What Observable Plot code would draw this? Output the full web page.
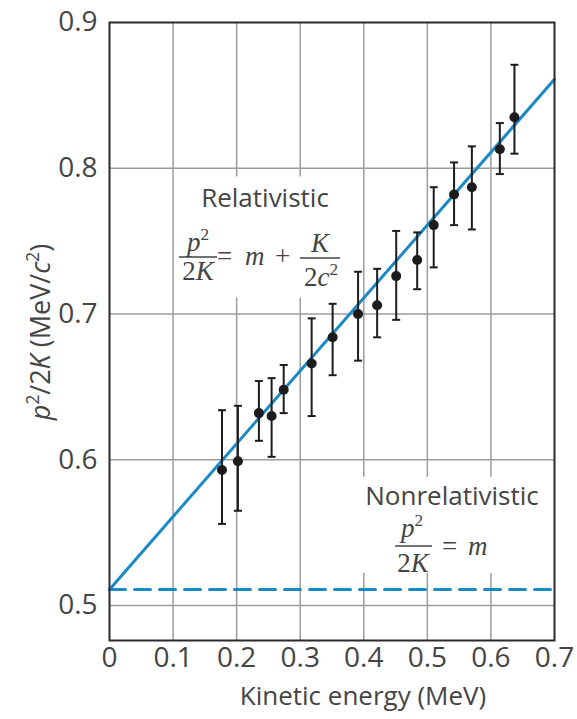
<!DOCTYPE html>
<html>
<head>
<meta charset="utf-8">
<script src="https://cdn.jsdelivr.net/npm/d3@7"></script>
<script src="https://cdn.jsdelivr.net/npm/@observablehq/plot@0.6"></script>
<style>
  html, body { margin: 0; padding: 0; background: #fff; }
  #chart { width: 577px; height: 719px; }
</style>
</head>
<body>
<div id="chart"></div>
<script>
// ---- data ----
const kinetic  = [0.177, 0.202, 0.235, 0.255, 0.274, 0.318, 0.351, 0.391, 0.421, 0.451, 0.484, 0.510, 0.542, 0.570, 0.614, 0.637];
const ratio    = [0.593, 0.599, 0.632, 0.630, 0.648, 0.666, 0.684, 0.700, 0.706, 0.726, 0.737, 0.761, 0.782, 0.787, 0.813, 0.835];
const errLow   = [0.556, 0.565, 0.613, 0.602, 0.632, 0.630, 0.658, 0.668, 0.684, 0.696, 0.717, 0.732, 0.761, 0.758, 0.796, 0.810];
const errHigh  = [0.634, 0.637, 0.654, 0.656, 0.665, 0.697, 0.707, 0.729, 0.731, 0.757, 0.756, 0.787, 0.804, 0.815, 0.831, 0.871];

const theoryK          = [0, 0.7];
const relativisticY    = [0.511, 0.861];
const nonrelativisticY = [0.511, 0.511];

const xTicks = [0, 0.1, 0.2, 0.3, 0.4, 0.5, 0.6, 0.7];
const yTicks = [0.5, 0.6, 0.7, 0.8, 0.9];
const xGrid  = [0.1, 0.2, 0.3, 0.4, 0.5, 0.6];
const yGrid  = [0.5, 0.6, 0.7, 0.8];

// ---- tables built from the arrays ----
const points = kinetic.map((k, i) => ({k, r: ratio[i], lo: errLow[i], hi: errHigh[i]}));
const relLine = theoryK.map((k, i) => ({k, r: relativisticY[i]}));
const nonLine = theoryK.map((k, i) => ({k, r: nonrelativisticY[i]}));

// annotation background boxes (data space)
const boxes = [
  {x1: 0.107, x2: 0.374, y1: 0.711, y2: 0.794},
  {x1: 0.387, x2: 0.690, y1: 0.522, y2: 0.588}
];
// annotation anchors (data space)
const relAnchor = {k: 0.2454, r: 0.7731};
const nonAnchor = {k: 0.5396, r: 0.5686};

const BLUE = "#1b8ac4";
const INK = "#1c1c1c";
const TXT = "#444";
const SANS = "'Open Sans', 'DejaVu Sans', sans-serif";
const SERIF = "'Liberation Serif', 'DejaVu Serif', serif";

const capSymbol = {
  draw(ctx, size) {
    const r = Math.sqrt(size / Math.PI);
    ctx.moveTo(-r, 0);
    ctx.lineTo(r, 0);
  }
};

const plot = Plot.plot({
  width: 577,
  height: 719,
  marginLeft: 109,
  marginRight: 23,
  marginTop: 22,
  marginBottom: 79,
  style: {fontFamily: SANS, color: TXT, background: "#fff"},
  x: {domain: [0, 0.7]},
  y: {domain: [0.476, 0.9]},
  marks: [
    Plot.gridX(xGrid, {stroke: "#9c9c9c", strokeOpacity: 1, strokeWidth: 1.5}),
    Plot.gridY(yGrid, {stroke: "#9c9c9c", strokeOpacity: 1, strokeWidth: 1.5}),
    Plot.rect(boxes, {x1: "x1", x2: "x2", y1: "y1", y2: "y2", fill: "#fff"}),
    Plot.line(nonLine, {x: "k", y: "r", stroke: BLUE, strokeWidth: 3, strokeDasharray: "16,9"}),
    Plot.line(relLine, {x: "k", y: "r", stroke: BLUE, strokeWidth: 3}),
    Plot.ruleX(points, {x: "k", y1: "lo", y2: "hi", stroke: INK, strokeWidth: 2}),
    Plot.dot(points, {x: "k", y: "lo", symbol: capSymbol, r: 4, stroke: INK, strokeWidth: 2}),
    Plot.dot(points, {x: "k", y: "hi", symbol: capSymbol, r: 4, stroke: INK, strokeWidth: 2}),
    Plot.dot(points, {x: "k", y: "r", r: 5, fill: INK}),
    Plot.frame({stroke: "#2a2a2a", strokeWidth: 2}),
    Plot.axisX(xTicks, {tickSize: 0, tickPadding: 7, fontSize: 28, label: null,
      tickFormat: d => d === 0 ? "0" : d.toFixed(1)}),
    Plot.axisY(yTicks, {tickSize: 0, tickPadding: 12, fontSize: 28, label: null,
      tickFormat: d => d.toFixed(1)})
  ]
});

document.getElementById("chart").appendChild(plot);

// ---- rich text annotations positioned through the plot's scales ----
const sx = plot.scale("x"), sy = plot.scale("y");
const svg = d3.select(plot);
const g = svg.append("g");

function rich(x, y, segs, {size = 27, family = SERIF, anchor = "middle", fill = TXT, transform = null, supScale = 0.64, supRise = 0.4} = {}) {
  const t = g.append("text")
    .attr("x", x).attr("y", y)
    .attr("text-anchor", anchor)
    .attr("font-size", size)
    .attr("font-family", family)
    .attr("fill", fill);
  if (transform) t.attr("transform", transform);
  let shift = 0;
  for (const s of segs) {
    const ts = t.append("tspan").text(s.t);
    const want = s.sup ? -size * supRise : 0;
    ts.attr("dy", want - shift);
    shift = want;
    if (s.sup) ts.attr("font-size", size * supScale);
    if (s.it) ts.attr("font-style", "italic");
  }
  return t;
}
function bar(x1, x2, y) {
  g.append("line").attr("x1", x1).attr("x2", x2).attr("y1", y).attr("y2", y)
    .attr("stroke", TXT).attr("stroke-width", 1.6);
}

// Relativistic block
{
  const ax = sx.apply(relAnchor.k), ay = sy.apply(relAnchor.r);
  rich(ax, ay, [{t: "Relativistic"}], {family: SANS, size: 26});
  rich(ax - 67, ay + 44, [{t: "p", it: true}, {t: "2", sup: true}]);
  bar(ax - 86, ax - 48, ay + 50);
  rich(ax - 67, ay + 73, [{t: "2"}, {t: "K", it: true}]);
  rich(ax - 48, ay + 58, [{t: "="}], {anchor: "start"});
  rich(ax - 20, ay + 58, [{t: "m", it: true}], {anchor: "start"});
  rich(ax + 10, ay + 58, [{t: "+"}], {anchor: "start"});
  rich(ax + 55, ay + 45, [{t: "K", it: true}]);
  bar(ax + 35, ax + 75, ay + 51);
  rich(ax + 56, ay + 79, [{t: "2"}, {t: "c", it: true}, {t: "2", sup: true}]);
}
// Nonrelativistic block
{
  const ax = sx.apply(nonAnchor.k), ay = sy.apply(nonAnchor.r);
  rich(ax, ay, [{t: "Nonrelativistic"}], {family: SANS, size: 26});
  rich(ax - 40, ay + 32, [{t: "p", it: true}, {t: "2", sup: true}]);
  bar(ax - 57, ax - 20, ay + 41);
  rich(ax - 39, ay + 67, [{t: "2"}, {t: "K", it: true}]);
  rich(ax - 10, ay + 50, [{t: "="}], {anchor: "start"});
  rich(ax + 16, ay + 50, [{t: "m", it: true}], {anchor: "start"});
}

// Axis titles
rich(363, 705, [{t: "Kinetic energy (MeV)"}], {family: SANS, size: 26});
rich(0, 0, [
  {t: "p", it: true}, {t: "2", sup: true}, {t: "/2"}, {t: "K", it: true},
  {t: " (MeV/"}, {t: "c", it: true}, {t: "2", sup: true}, {t: ")"}
], {family: SANS, size: 27, transform: "translate(50,332) rotate(-90)"});
</script>
</body>
</html>
